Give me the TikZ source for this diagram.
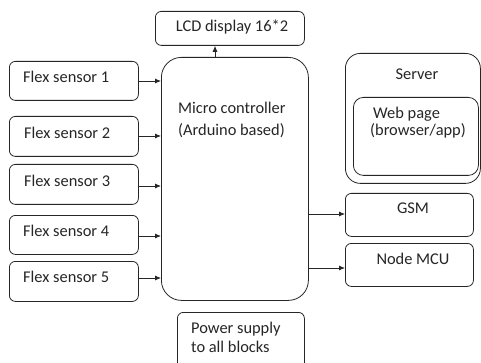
\documentclass[tikz,border=0pt]{standalone}
\usepackage{fontspec}
\setmainfont{Carlito}
\usetikzlibrary{arrows.meta}
\begin{document}
\begin{tikzpicture}[x=1pt,y=-1pt,
  blk/.style={draw=black!85,line width=0.8pt,rounded corners=#1,anchor=north west,inner sep=0pt},
  blk/.default=6pt,
  txt/.style={inner sep=0pt,font=\fontsize{16.4}{20}\selectfont,text=black!85},
  lt/.style={txt,anchor=west,align=left},
  arr/.style={draw=black!85,line width=0.8pt,-{Latex[length=6pt,width=5pt]}}]
\clip (0,0) rectangle (481,363);
\fill[white] (0,0) rectangle (481,363);

% display
\node[blk,minimum width=149pt,minimum height=34pt] (lcd) at (155,11) {};
\node[txt] (lcdt) at (232,27) {LCD display 16*2};

% controller
\node[blk=20pt,minimum width=147pt,minimum height=243pt] (mcu) at (161,57) {};
\node[lt,font=\fontsize{16.4}{22}\selectfont] (mcut) at (178,120) {Micro controller\\(Arduino based)};

% sensors
\node[blk,minimum width=129pt,minimum height=39pt] (s1) at (9,61) {};
\node[blk,minimum width=129pt,minimum height=40pt] (s2) at (9,116) {};
\node[blk,minimum width=129pt,minimum height=40pt] (s3) at (9,164) {};
\node[blk,minimum width=129pt,minimum height=39pt] (s4) at (9,215) {};
\node[blk,minimum width=129pt,minimum height=40pt] (s5) at (9,261) {};
\node[lt] (s1t) at (23,77) {Flex sensor 1};
\node[lt] (s2t) at (24,133) {Flex sensor 2};
\node[lt] (s3t) at (24,181) {Flex sensor 3};
\node[lt] (s4t) at (23,231) {Flex sensor 4};
\node[lt] (s5t) at (23,277) {Flex sensor 5};

% server with web page
\node[blk=15pt,minimum width=135pt,minimum height=130pt] (srv) at (345,53) {};
\node[txt] (srvt) at (417,74) {Server};
\node[blk=10pt,minimum width=125pt,minimum height=78pt] (web) at (353,97) {};
\node[lt,font=\fontsize{16.4}{17}\selectfont] (webt) at (370,123) {\hspace{3pt}Web page\\(browser/app)};

% outputs
\node[blk,minimum width=128pt,minimum height=43pt] (gsm) at (345,193) {};
\node[txt] (gsmt) at (413,208) {GSM};
\node[blk,minimum width=128pt,minimum height=43pt] (nmcu) at (345,243) {};
\node[txt] (nmcut) at (413,259) {Node MCU};

% power
\node[blk,minimum width=127pt,minimum height=60pt] (pwr) at (177,312) {};
\node[lt,font=\fontsize{16.4}{19}\selectfont] (pwrt) at (191,337.5) {Power supply\\to all blocks};

% connectors
\coordinate (mtop) at (215,57);
\draw[arr] (mtop) -- (mtop |- lcd.south);
\foreach \s/\yy in {s1/81,s2/136,s3/186,s4/236,s5/278}
  \draw[arr] (\s.east |- 0,\yy) -- (mcu.west |- 0,\yy);
\draw[arr] (mcu.east |- 0,214) -- (gsm.west |- 0,214);
\draw[arr] (mcu.east |- 0,268) -- (nmcu.west |- 0,268);
\end{tikzpicture}
\end{document}
